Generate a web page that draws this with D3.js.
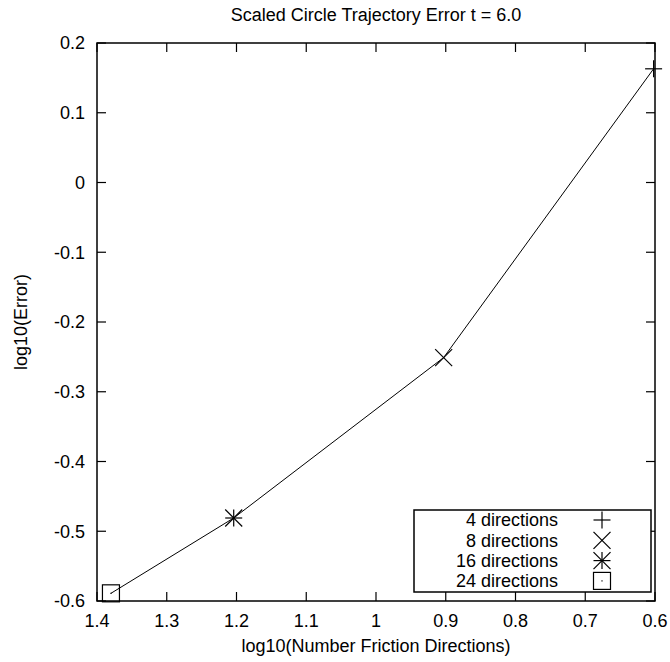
<!DOCTYPE html>
<html>
<head>
<meta charset="utf-8">
<script src="https://cdn.jsdelivr.net/npm/d3@7"></script>
<style>
  html, body { margin: 0; padding: 0; background: #fff; }
  svg { display: block; }
  text { font-family: "Liberation Sans", Arial, Helvetica, sans-serif; fill: #000; }
</style>
</head>
<body>
<svg id="chart" width="670" height="662"></svg>
<script>
// Convergence of the trajectory error versus number of friction directions
const seriesLabels = ["4 directions", "8 directions", "16 directions", "24 directions"];
const logDirections = [0.602, 0.903, 1.204, 1.380];
const logError = [0.163, -0.251, -0.481, -0.589];
const markerKinds = ["plus", "cross", "star", "box"];

const xTicks = [1.4, 1.3, 1.2, 1.1, 1.0, 0.9, 0.8, 0.7, 0.6];
const yTicks = [0.2, 0.1, 0, -0.1, -0.2, -0.3, -0.4, -0.5, -0.6];

const titleText = "Scaled Circle Trajectory Error t = 6.0";
const xLabelText = "log10(Number Friction Directions)";
const yLabelText = "log10(Error)";

const W = 670, H = 662;
const margin = { left: 97, right: 15, top: 43, bottom: 61 };
const pw = W - margin.left - margin.right;
const ph = H - margin.top - margin.bottom;

const svg = d3.select("#chart");
const g = svg.append("g").attr("transform", `translate(${margin.left},${margin.top})`);

// x axis runs from 1.4 on the left down to 0.6 on the right
const x = d3.scaleLinear().domain([1.4, 0.6]).range([0, pw]);
const y = d3.scaleLinear().domain([-0.6, 0.2]).range([ph, 0]);

const fontSize = 18;
const tickLen = 9;
// plain hyphen for negatives, "0" for zero
const fmt = d => String(+d.toFixed(1));

// tick labels
g.selectAll(".xtl").data(xTicks).enter().append("text")
  .attr("x", d => x(d)).attr("y", ph + 26)
  .attr("text-anchor", "middle").style("font-size", fontSize + "px")
  .text(fmt);

g.selectAll(".ytl").data(yTicks).enter().append("text")
  .attr("x", -12).attr("y", d => y(d)).attr("dy", "0.36em")
  .attr("text-anchor", "end").style("font-size", fontSize + "px")
  .text(fmt);

// inward ticks on all four sides
const tickG = g.append("g").attr("stroke", "#000").attr("stroke-width", 1.2);
xTicks.forEach(t => {
  tickG.append("line").attr("x1", x(t)).attr("x2", x(t)).attr("y1", ph).attr("y2", ph - tickLen);
  tickG.append("line").attr("x1", x(t)).attr("x2", x(t)).attr("y1", 0).attr("y2", tickLen);
});
yTicks.forEach(t => {
  tickG.append("line").attr("x1", 0).attr("x2", tickLen).attr("y1", y(t)).attr("y2", y(t));
  tickG.append("line").attr("x1", pw).attr("x2", pw - tickLen).attr("y1", y(t)).attr("y2", y(t));
});

// markers
function drawMarker(sel, kind, cx, cy) {
  const s = 8.5;
  const m = sel.append("g").attr("transform", `translate(${cx},${cy})`)
    .attr("stroke", "#000").attr("stroke-width", 1.2).attr("fill", "none");
  if (kind === "plus" || kind === "star") {
    m.append("line").attr("x1", -s).attr("x2", s).attr("y1", 0).attr("y2", 0);
    m.append("line").attr("x1", 0).attr("x2", 0).attr("y1", -s).attr("y2", s);
  }
  if (kind === "cross" || kind === "star") {
    m.append("line").attr("x1", -s).attr("x2", s).attr("y1", -s).attr("y2", s);
    m.append("line").attr("x1", -s).attr("x2", s).attr("y1", s).attr("y2", -s);
  }
  if (kind === "box") {
    m.append("rect").attr("x", -s).attr("y", -s).attr("width", 2 * s).attr("height", 2 * s);
    m.append("rect").attr("x", -0.6).attr("y", -0.6).attr("width", 1.2).attr("height", 1.2)
      .attr("fill", "#000").attr("stroke", "none");
  }
}

// data line
const pts = logDirections.map((d, i) => [d, logError[i]]);
g.append("path").datum(pts)
  .attr("fill", "none").attr("stroke", "#000").attr("stroke-width", 1)
  .attr("d", d3.line().x(d => x(d[0])).y(d => y(d[1])));

pts.forEach((p, i) => drawMarker(g, markerKinds[i], x(p[0]), y(p[1])));

// legend
const lg = g.append("g");
const lgLeft = 414 - margin.left, lgTop = 510 - margin.top;
const lgW = 237, lgH = 82, rowH = 20.3;
lg.append("rect").attr("x", lgLeft).attr("y", lgTop).attr("width", lgW).attr("height", lgH)
  .attr("fill", "#fff").attr("stroke", "#000").attr("stroke-width", 1.5);
seriesLabels.forEach((lab, i) => {
  const cy = lgTop + 10 + i * rowH;
  lg.append("text").attr("x", 558 - margin.left).attr("y", cy).attr("dy", "0.36em")
    .attr("text-anchor", "end").style("font-size", fontSize + "px").text(lab);
  drawMarker(lg, markerKinds[i], 602 - margin.left, cy);
});

// plot frame
g.append("rect").attr("x", 0).attr("y", 0).attr("width", pw).attr("height", ph)
  .attr("fill", "none").attr("stroke", "#000").attr("stroke-width", 1.5);

// titles
svg.append("text").attr("x", margin.left + pw / 2).attr("y", 21)
  .attr("text-anchor", "middle").style("font-size", fontSize + "px").text(titleText);
svg.append("text").attr("x", margin.left + pw / 2).attr("y", 652)
  .attr("text-anchor", "middle").style("font-size", fontSize + "px").text(xLabelText);
svg.append("text").attr("transform", `translate(27,${margin.top + ph / 2}) rotate(-90)`)
  .attr("text-anchor", "middle").style("font-size", fontSize + "px").text(yLabelText);
</script>
</body>
</html>
